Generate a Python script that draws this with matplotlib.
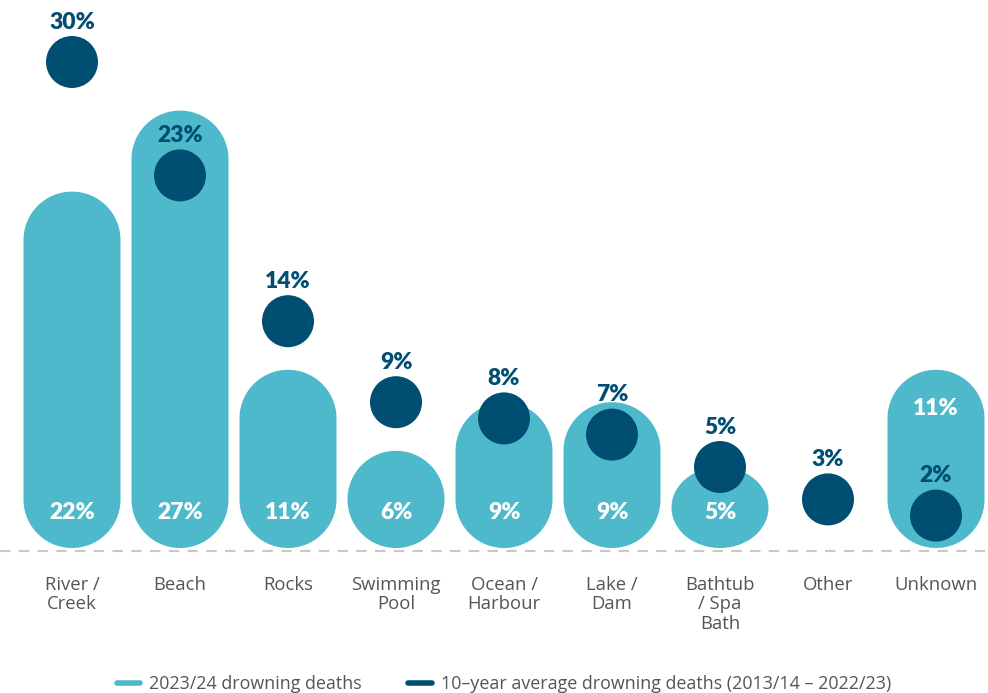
import matplotlib
matplotlib.use("Agg")
import numpy as np
import matplotlib.pyplot as plt
from matplotlib.patches import Ellipse, Polygon
from matplotlib.lines import Line2D

categories = ["River /\nCreek", "Beach", "Rocks", "Swimming\nPool", "Ocean /\nHarbour",
              "Lake /\nDam", "Bathtub\n/ Spa\nBath", "Other", "Unknown"]
deaths_2324 = [22, 27, 11, 6, 9, 9, 5, 0, 11]
avg_10yr = [30, 23, 14, 9, 8, 7, 5, 3, 2]

LIGHT = "#4fb9cc"
DARK = "#004e72"
GREY = "#555555"

# figure is laid out in pixel terms: 108 px per category, 16.2 px per percent
PX_X = 108.0
PX_Y = 16.2
fig = plt.figure(figsize=(9.88, 6.93), dpi=100)
ax = fig.add_axes([0, 0, 1, 1])
ax.set_xlim(-72 / PX_X, (988 - 72) / PX_X)
ax.set_ylim((548 - 693) / PX_Y, 548 / PX_Y)
ax.axis("off")

bar_w = 97 / PX_X
rx = bar_w / 2
ry = rx * PX_X / PX_Y
dot_w = 52 / PX_X
dot_h = 52 / PX_Y


def pill(xc, h):
    # rounded bar: full semicircle ends, or an ellipse when too short
    t = np.linspace(0, np.pi, 60)
    if h >= 2 * ry:
        top = np.column_stack([xc + rx * np.cos(t), h - ry + ry * np.sin(t)])
        bot = np.column_stack([xc - rx * np.cos(t), ry - ry * np.sin(t)])
    else:
        top = np.column_stack([xc + rx * np.cos(t), h / 2 + h / 2 * np.sin(t)])
        bot = np.column_stack([xc - rx * np.cos(t), h / 2 - h / 2 * np.sin(t)])
    return Polygon(np.vstack([top, bot]), closed=True, color=LIGHT, lw=0)


pct_font = dict(family=["Lato", "DejaVu Sans"], fontweight="heavy", fontsize=16.5,
                ha="center", va="center")

for i, (v, a) in enumerate(zip(deaths_2324, avg_10yr)):
    if v > 0:
        ax.add_patch(pill(i, v))
        # label sits low in the bar unless the dot is down there
        ly = v - 2.4 if a < 4 else 2.22
        ax.text(i, ly, f"{v}%", color="white", zorder=5, **pct_font)
    ax.add_patch(Ellipse((i, a), dot_w, dot_h, color=DARK, lw=0, zorder=3))
    ax.text(i, a + 2.45, f"{a}%", color=DARK, zorder=5, **pct_font)

# dashed baseline
ax.plot([-72 / PX_X, (985 - 72) / PX_X], [-0.2, -0.2], color="#c8c8c8",
        lw=1.5, ls=(0, (5, 4)), zorder=1)

for i, c in enumerate(categories):
    ax.text(i, -1.75, c, ha="center", va="top", color=GREY, fontsize=13.3,
            family=["Open Sans", "DejaVu Sans"], linespacing=1.08)

handles = [Line2D([], [], color=LIGHT, lw=4, solid_capstyle="round"),
           Line2D([], [], color=DARK, lw=4, solid_capstyle="round")]
labels = ["2023/24 drowning deaths", "10\u2013year average drowning deaths (2013/14 \u2013 2022/23)"]
fig.legend(handles, labels, loc="center", bbox_to_anchor=(0.51, 0.013), ncol=2,
           frameon=False, handlelength=1.3, handletextpad=0.5, columnspacing=2.6,
           prop={"family": ["Open Sans", "DejaVu Sans"], "size": 12.9}, labelcolor=GREY)

fig.savefig("out.png", dpi=100)
